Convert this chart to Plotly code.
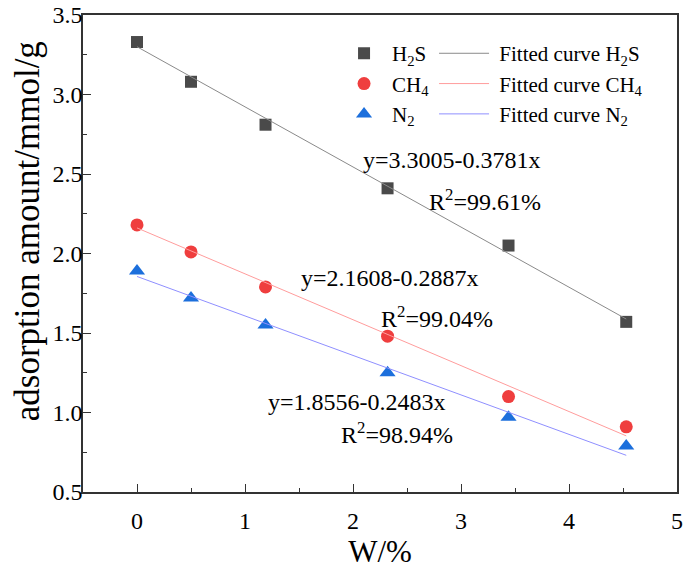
import plotly.graph_objects as go

# data
w = [0, 0.5, 1.19, 2.32, 3.44, 4.53]
h2s = [3.33, 3.08, 2.81, 2.41, 2.05, 1.57]
ch4 = [2.18, 2.01, 1.79, 1.48, 1.10, 0.91]
n2 = [1.89, 1.72, 1.55, 1.25, 0.97, 0.79]

fit_h2s = (3.3005, -0.3781)
fit_ch4 = (2.1608, -0.2887)
fit_n2 = (1.8556, -0.2483)

fit_x = [w[0], w[-1]]

def line(coef):
    return [coef[0] + coef[1] * x for x in fit_x]

FONT = "Liberation Serif"

fig = go.Figure()

series = [
    ("H<sub>2</sub>S", h2s, fit_h2s, "square", "#4a4a4a", "#8a8a8a", 12),
    ("CH<sub>4</sub>", ch4, fit_ch4, "circle", "#ef3e3e", "#ff9c9c", 13),
    ("N<sub>2</sub>", n2, fit_n2, "triangle-up", "#1c6fdc", "#8f8fff", 14),
]

for i, (name, ys, coef, sym, mc, lc, ms) in enumerate(series):
    fig.add_trace(go.Scatter(
        x=w, y=ys, mode="markers", name=name,
        marker=dict(symbol=sym, color=mc, size=ms, line=dict(width=0)),
        legend="legend", legendgroup="m%d" % i,
    ))
for i, (name, ys, coef, sym, mc, lc, ms) in enumerate(series):
    fig.add_trace(go.Scatter(
        x=fit_x, y=line(coef), mode="lines", name="\u00a0Fitted curve " + name,
        line=dict(color=lc, width=1),
        legend="legend2", legendgroup="l%d" % i,
    ))

annots = [
    ("y=3.3005-0.3781x", 2.917, 2.588),
    ("R<sup>2</sup>=99.61%", 3.222, 2.336),
    ("y=2.1608-0.2887x", 2.343, 1.846),
    ("R<sup>2</sup>=99.04%", 2.778, 1.601),
    ("y=1.8556-0.2483x", 2.037, 1.066),
    ("R<sup>2</sup>=98.94%", 2.407, 0.871),
]
for t, ax, ay in annots:
    fig.add_annotation(x=ax, y=ay, xref="x", yref="y", text=t, showarrow=False,
                       font=dict(family=FONT, size=24, color="black"))

# y-axis title as rotated text
fig.add_annotation(x=-0.094, y=0.547, xref="paper", yref="paper",
                   text="adsorption amount/mmol/g", textangle=-90, showarrow=False,
                   xanchor="center", yanchor="middle",
                   font=dict(family=FONT, size=35, color="black"))

axis_common = dict(
    showline=True, linecolor="#333333", linewidth=1.5, mirror=True,
    ticks="inside", ticklen=8, tickwidth=1.2, tickcolor="#333333",
    showgrid=False, zeroline=False, automargin=False,
    ticklabeloverflow="allow",
    tickfont=dict(family=FONT, size=24, color="black"),
)

fig.update_xaxes(range=[-0.5, 5], dtick=1, tick0=0, ticklabelstandoff=6,
                 minor=dict(ticks="inside", ticklen=4, dtick=0.5, tickcolor="#333333", tickwidth=1.2),
                 title=dict(text="W/%", font=dict(family=FONT, size=31, color="black"), standoff=6),
                 **axis_common)
fig.update_yaxes(range=[0.5, 3.5], dtick=0.5, tick0=0.5, tickformat=".1f", ticklabelstandoff=-6,
                 minor=dict(ticks="inside", ticklen=4, dtick=0.25, tickcolor="#333333", tickwidth=1.2),
                 **axis_common)

legend_font = dict(family=FONT, size=21, color="black")
fig.update_layout(
    width=685, height=582,
    font=dict(family=FONT, color="black"),
    margin=dict(l=83, r=8, t=15, b=90),
    paper_bgcolor="white", plot_bgcolor="white",
    legend=dict(x=0.426, y=0.962, xanchor="left", yanchor="top", font=legend_font,
                bgcolor="rgba(0,0,0,0)", tracegroupgap=0, itemwidth=46),
    legend2=dict(x=0.591, y=0.962, xanchor="left", yanchor="top", font=legend_font,
                 bgcolor="rgba(0,0,0,0)", tracegroupgap=0, itemwidth=50),
)

fig.write_html("out.html",
               config={"displayModeBar": False},
               post_script="document.body.style.margin='0';document.body.style.overflow='hidden';")
